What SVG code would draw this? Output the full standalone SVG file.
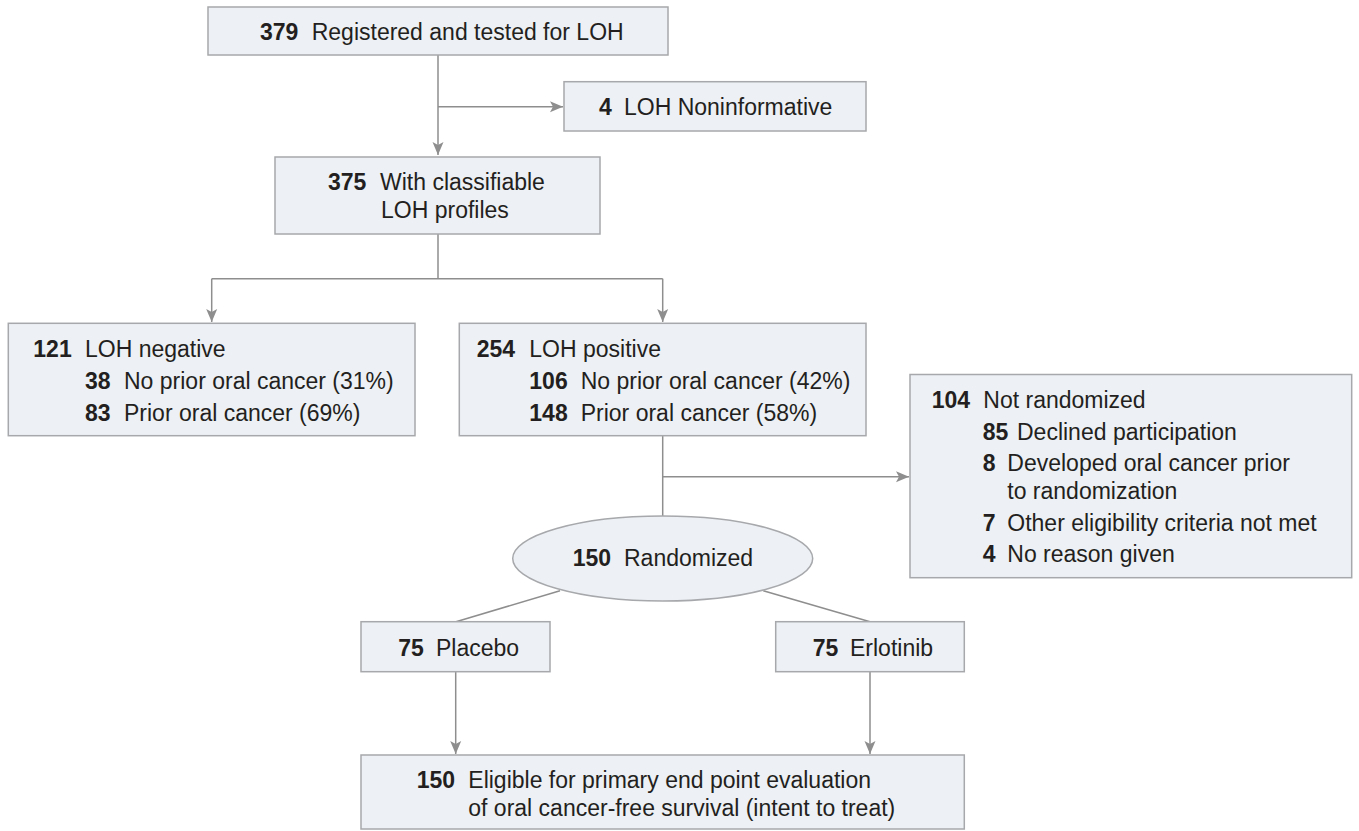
<svg xmlns="http://www.w3.org/2000/svg" width="1359" height="831" viewBox="0 0 1359 831">
<style>
  .box { fill: #edf0f4; stroke: #a6a8ab; stroke-width: 1.5; }
  .t { font-family: "Liberation Sans", Arial, sans-serif; font-size: 23px; fill: #231f20; }
  .b { font-weight: bold; }
  .c { fill: none; stroke: #8e8e8e; stroke-width: 1.5; }
</style>
<defs>
  <marker id="arr" markerUnits="userSpaceOnUse" markerWidth="14" markerHeight="12" refX="13" refY="6" orient="auto">
    <path d="M0,0.5 L13,6 L0,11.5 L3,6 z" fill="#8e8e8e"/>
  </marker>
</defs>
<rect width="1359" height="831" fill="#ffffff"/>

<g id="connectors">
  <path class="c" d="M438,55 V155" marker-end="url(#arr)"/>
  <path class="c" d="M438,106.7 H563" marker-end="url(#arr)"/>
  <path class="c" d="M438,234 V278.7"/>
  <path class="c" d="M211.7,278.7 H662.7"/>
  <path class="c" d="M211.7,278.7 V322" marker-end="url(#arr)"/>
  <path class="c" d="M662.7,278.7 V322" marker-end="url(#arr)"/>
  <path class="c" d="M662.7,436 V516"/>
  <path class="c" d="M662.7,476.7 H909" marker-end="url(#arr)"/>
  <path class="c" d="M560,590.7 L456,621.7"/>
  <path class="c" d="M763.3,590.7 L870,621.7"/>
  <path class="c" d="M455.7,671.7 V754" marker-end="url(#arr)"/>
  <path class="c" d="M870,671.7 V754" marker-end="url(#arr)"/>
</g>

<g id="n379">
  <rect class="box" x="208" y="7" width="460" height="48"/>
  <text class="t" y="40"><tspan class="b" x="260">379</tspan><tspan x="311.7">Registered and tested for LOH</tspan></text>
</g>

<g id="n4">
  <rect class="box" x="564" y="81.7" width="302" height="49.3"/>
  <text class="t" y="115"><tspan class="b" x="599">4</tspan><tspan x="624">LOH Noninformative</tspan></text>
</g>

<g id="n375">
  <rect class="box" x="275" y="157" width="325" height="77"/>
  <text class="t" y="190"><tspan class="b" x="328">375</tspan><tspan x="380">With classifiable</tspan></text>
  <text class="t" x="381" y="218.3">LOH profiles</text>
</g>

<g id="n121">
  <rect class="box" x="8.3" y="323.3" width="406.7" height="112.4"/>
  <text class="t" y="356.7"><tspan class="b" x="33.3">121</tspan><tspan x="85">LOH negative</tspan></text>
  <text class="t" y="388.5"><tspan class="b" x="85">38</tspan><tspan x="124">No prior oral cancer (31%)</tspan></text>
  <text class="t" y="421"><tspan class="b" x="85">83</tspan><tspan x="124">Prior oral cancer (69%)</tspan></text>
</g>

<g id="n254">
  <rect class="box" x="459.3" y="323.3" width="406.7" height="112.4"/>
  <text class="t" y="356.7"><tspan class="b" x="476.7">254</tspan><tspan x="529.3">LOH positive</tspan></text>
  <text class="t" y="388.5"><tspan class="b" x="529.3">106</tspan><tspan x="580.7">No prior oral cancer (42%)</tspan></text>
  <text class="t" y="421"><tspan class="b" x="529.3">148</tspan><tspan x="580.7">Prior oral cancer (58%)</tspan></text>
</g>

<g id="n104">
  <rect class="box" x="910" y="374.5" width="441.7" height="203.2"/>
  <text class="t" y="408.3"><tspan class="b" x="931.7">104</tspan><tspan x="983.3">Not randomized</tspan></text>
  <text class="t" y="440"><tspan class="b" x="982.7">85</tspan><tspan x="1017">Declined participation</tspan></text>
  <text class="t" y="471"><tspan class="b" x="982.7">8</tspan><tspan x="1007.3">Developed oral cancer prior</tspan></text>
  <text class="t" x="1007.3" y="499">to randomization</text>
  <text class="t" y="530.7"><tspan class="b" x="982.7">7</tspan><tspan x="1007.3">Other eligibility criteria not met</tspan></text>
  <text class="t" y="561.7"><tspan class="b" x="982.7">4</tspan><tspan x="1007.3">No reason given</tspan></text>
</g>

<g id="n150r">
  <ellipse class="box" cx="662.7" cy="558.5" rx="150" ry="42.5"/>
  <text class="t" y="565.7"><tspan class="b" x="572.7">150</tspan><tspan x="624">Randomized</tspan></text>
</g>

<g id="nPlacebo">
  <rect class="box" x="361" y="621.7" width="189" height="50"/>
  <text class="t" y="655.7"><tspan class="b" x="398.3">75</tspan><tspan x="436">Placebo</tspan></text>
</g>

<g id="nErlotinib">
  <rect class="box" x="775.7" y="621.7" width="188.6" height="50"/>
  <text class="t" y="655.7"><tspan class="b" x="812.7">75</tspan><tspan x="850">Erlotinib</tspan></text>
</g>

<g id="n150e">
  <rect class="box" x="361" y="755" width="603.3" height="74"/>
  <text class="t" y="788.3"><tspan class="b" x="416.7">150</tspan><tspan x="468.3">Eligible for primary end point evaluation</tspan></text>
  <text class="t" x="468.3" y="815.7">of oral cancer-free survival (intent to treat)</text>
</g>
</svg>
